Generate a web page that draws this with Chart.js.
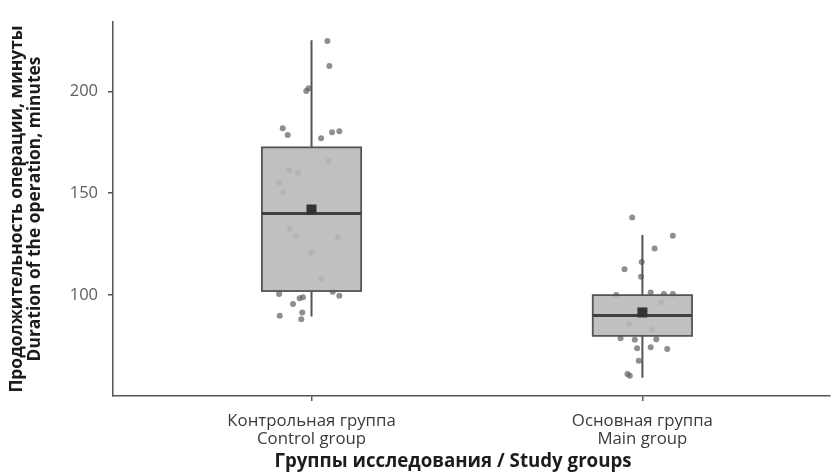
<!DOCTYPE html>
<html>
<head>
<meta charset="utf-8">
<script src="https://cdn.jsdelivr.net/npm/chart.js@4/dist/chart.umd.min.js"></script>
<style>
  html, body { margin: 0; padding: 0; background: #fff; }
  #wrap { width: 833px; height: 473px; position: relative; }
</style>
</head>
<body>
<div id="wrap"><canvas id="c" width="833" height="473"></canvas></div>
<script>
// Study groups (x positions 1 and 2 on a linear axis)
const groupLabels = [
  ['Контрольная группа', 'Control group'],
  ['Основная группа', 'Main group']
];
const groupPos = [1, 2];
const xTitle = 'Группы исследования / Study groups';
const yTitle = ['Продолжительность операции, минуты', 'Duration of the operation, minutes'];

// Box-plot summary per group, minutes
const q1 = [102, 80];
const medians = [140, 90];
const q3 = [172.5, 100];
const whiskerLow = [89.5, 59.5];
const whiskerHigh = [225, 129.5];
const means = [142, 91.5];

// Individual operations: horizontal jitter offset and duration
const controlJitter = [0.048, 0.054, -0.016, -0.009, -0.087, -0.072, 0.029, 0.062, 0.084,
  -0.098, -0.056, -0.036, -0.026, -0.096, -0.028, -0.031, 0.064, 0.084,
  0.051, -0.068, -0.041, -0.098, -0.086, -0.066, -0.046, 0.079, -0.001, 0.029];
const controlMinutes = [224.7, 212.4, 200.1, 201.5, 181.9, 178.6, 177, 179.9, 180.4,
  100.5, 95.6, 98.4, 98.9, 89.9, 91.5, 88.2, 101.6, 99.7,
  165.8, 161.4, 160.1, 155.2, 150.3, 132.4, 129.1, 128.3, 120.9, 108.2];
const mainJitter = [-0.031, 0.092, 0.037, -0.002, -0.054, -0.004, -0.079, 0.025, 0.065, 0.092,
  -0.066, -0.023, 0.042, -0.016, 0.025, 0.075, -0.011, -0.038, -0.045, 0.056, -0.04, 0.03];
const mainMinutes = [138.1, 129.1, 122.9, 116.3, 112.7, 109, 100, 101.3, 100.5, 100.5,
  78.8, 78.1, 78.4, 73.9, 74.4, 73.5, 67.8, 60.4, 61.3, 96.5, 86, 83];

const yTicks = [100, 150, 200];

const controlPoints = controlMinutes.map((v, i) => ({ x: groupPos[0] + controlJitter[i], y: v }));
const mainPoints = mainMinutes.map((v, i) => ({ x: groupPos[1] + mainJitter[i], y: v }));

const boxHalfWidth = 0.15;

// Draws whiskers, boxes, medians and mean markers on top of the jittered points
const boxPlotPlugin = {
  id: 'boxPlot',
  afterDatasetsDraw(chart) {
    const { ctx, scales: { x, y } } = chart;
    ctx.save();
    groupPos.forEach((pos, i) => {
      const xc = x.getPixelForValue(pos);
      const xl = x.getPixelForValue(pos - boxHalfWidth);
      const xr = x.getPixelForValue(pos + boxHalfWidth);
      const yQ1 = y.getPixelForValue(q1[i]);
      const yQ3 = y.getPixelForValue(q3[i]);
      const yMed = y.getPixelForValue(medians[i]);
      const yLo = y.getPixelForValue(whiskerLow[i]);
      const yHi = y.getPixelForValue(whiskerHigh[i]);

      // whiskers
      ctx.strokeStyle = '#555555';
      ctx.lineWidth = 2;
      ctx.beginPath();
      ctx.moveTo(xc, yQ3); ctx.lineTo(xc, yHi);
      ctx.moveTo(xc, yQ1); ctx.lineTo(xc, yLo);
      ctx.stroke();

      // box
      ctx.fillStyle = 'rgba(185,185,185,0.9)';
      ctx.fillRect(xl, yQ3, xr - xl, yQ1 - yQ3);
      ctx.strokeStyle = '#555555';
      ctx.lineWidth = 1.8;
      ctx.strokeRect(xl, yQ3, xr - xl, yQ1 - yQ3);

      // median
      ctx.strokeStyle = '#404040';
      ctx.lineWidth = 3;
      ctx.beginPath();
      ctx.moveTo(xl, yMed); ctx.lineTo(xr, yMed);
      ctx.stroke();

      // mean
      const ym = y.getPixelForValue(means[i]);
      ctx.fillStyle = '#333333';
      ctx.fillRect(xc - 5, ym - 5, 10, 10);
    });
    ctx.restore();
  },
  // x-axis title, centred under the plot
  afterDraw(chart) {
    const { ctx } = chart;
    ctx.save();
    ctx.font = 'bold 18.7px "Open Sans"';
    ctx.fillStyle = '#1c1c1c';
    ctx.textAlign = 'center';
    ctx.textBaseline = 'middle';
    ctx.fillText(xTitle, 453, 462);
    ctx.restore();
  }
};

const pointStyle = {
  type: 'scatter',
  pointRadius: 3,
  pointHoverRadius: 3,
  pointBackgroundColor: 'rgba(95,95,95,0.7)',
  pointBorderWidth: 0,
  borderWidth: 0
};

new Chart(document.getElementById('c'), {
  type: 'scatter',
  data: {
    datasets: [
      Object.assign({ label: 'control', data: controlPoints }, pointStyle),
      Object.assign({ label: 'main', data: mainPoints }, pointStyle)
    ]
  },
  options: {
    responsive: false,
    animation: false,
    events: [],
    layout: { padding: { left: 0, top: 22, right: 0, bottom: 0 } },
    plugins: { legend: { display: false }, tooltip: { enabled: false } },
    scales: {
      x: {
        type: 'linear',
        min: 0.4,
        max: 2.567,
        afterBuildTicks: (scale) => { scale.ticks = groupPos.map(v => ({ value: v })); },
        afterFit: (scale) => { scale.height = 77; },
        ticks: {
          callback: (v) => groupLabels[groupPos.indexOf(v)] || '',
          color: '#3a3a3a',
          font: { family: 'Open Sans', size: 16.8, lineHeight: 1.07 },
          padding: 11,
          maxRotation: 0,
          autoSkip: false
        },
        grid: { drawOnChartArea: false, drawTicks: true, tickLength: 5, color: '#555555', lineWidth: 1.5 },
        border: { display: true, color: '#555555', width: 1.5 },
        title: { display: false }
      },
      y: {
        type: 'linear',
        min: 50.5,
        max: 234,
        afterBuildTicks: (scale) => { scale.ticks = yTicks.map(v => ({ value: v })); },
        afterFit: (scale) => { scale.width = 113; },
        ticks: {
          color: '#5e5e5e',
          font: { family: 'Open Sans', size: 16.5 },
          padding: 10
        },
        grid: { drawOnChartArea: false, drawTicks: true, tickLength: 5, color: '#555555', lineWidth: 1.5 },
        border: { display: true, color: '#555555', width: 1.5 },
        title: {
          display: true,
          text: yTitle,
          color: '#1c1c1c',
          font: { family: 'Open Sans', size: 17.4, weight: 'bold', lineHeight: 1.03 },
          padding: { top: 8, bottom: 0 }
        }
      }
    }
  },
  plugins: [boxPlotPlugin]
});
</script>
</body>
</html>
